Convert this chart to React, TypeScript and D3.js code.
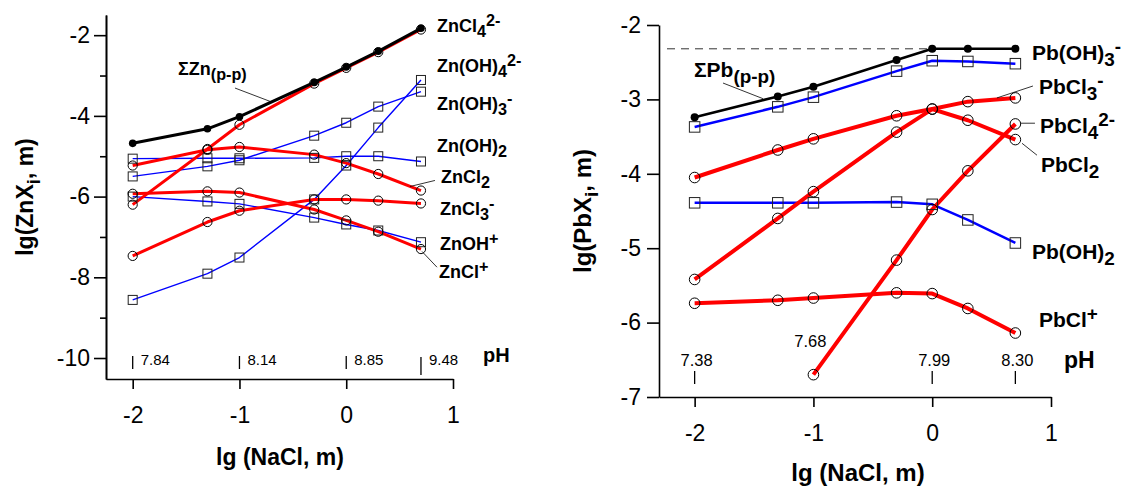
import React, { useEffect, useRef } from 'react';
import * as d3 from 'd3';

// lg(NaCl, m) values, same for both panels
const lgNaCl = [-2, -1.3, -1, -0.3, 0, 0.3, 0.7];

// Zn panel: lg of species molality
const znSum = [-4.68, -4.32, -4.02, -3.17, -2.79, -2.4, -1.83];
const znCl4 = [-6.2, -4.82, -4.22, -3.2, -2.81, -2.42, -1.86];
const znOH4 = [-8.56, -7.91, -7.51, -6.07, -5.23, -4.29, -3.11];
const znOH3 = [-5.5, -5.25, -5.1, -4.49, -4.17, -3.77, -3.4];
const znOH2 = [-5.06, -5.05, -5.05, -5.04, -5.0, -5.0, -5.13];
const znCl2 = [-5.23, -4.84, -4.77, -4.96, -5.17, -5.44, -5.85];
const znCl3 = [-7.47, -6.63, -6.35, -6.07, -6.07, -6.1, -6.17];
const znOH = [-6.0, -6.12, -6.18, -6.52, -6.69, -6.84, -7.13];
const znCl = [-5.93, -5.87, -5.9, -6.32, -6.59, -6.87, -7.3];

const znPh = ['7.84', '8.14', '8.85', '9.48'];
const znPhAt = [-2, -1, 0, 0.7];

// Pb panel
const pbSum = [-3.24, -2.96, -2.83, -2.47, -2.32, -2.32, -2.32];
const pbOH3 = [-3.37, -3.1, -2.97, -2.62, -2.48, -2.49, -2.52];
const pbCl3 = [-4.05, -3.68, -3.53, -3.22, -3.13, -3.03, -2.98];
const pbCl2 = [-5.42, -4.6, -4.24, -3.44, -3.13, -3.28, -3.54];
const pbCl4 = [null, null, -6.7, -5.16, -4.48, -3.96, -3.33];
const pbOH2 = [-4.39, -4.39, -4.39, -4.38, -4.41, -4.62, -4.93];
const pbCl = [-5.74, -5.7, -5.67, -5.6, -5.61, -5.81, -6.14];
const pbLimit = -2.32;

const pbPh = ['7.38', '7.68', '7.99', '8.30'];
const pbPhAt = [-2, -1, 0, 0.7];

// label texts: [text, 'sub' | 'sup' | undefined]
const znNames = [
  [['ZnCl'], ['4', 'sub'], ['2-', 'sup']],
  [['Zn(OH)'], ['4', 'sub'], ['2-', 'sup']],
  [['Zn(OH)'], ['3', 'sub'], ['-', 'sup']],
  [['Zn(OH)'], ['2', 'sub']],
  [['ZnCl'], ['2', 'sub']],
  [['ZnCl'], ['3', 'sub'], ['-', 'sup']],
  [['ZnOH'], ['+', 'sup']],
  [['ZnCl'], ['+', 'sup']],
];
const znSumName = [['\u03A3Zn'], ['(p-p)', 'sub']];

const pbNames = [
  [['Pb(OH)'], ['3', 'sub'], ['-', 'sup']],
  [['PbCl'], ['3', 'sub'], ['-', 'sup']],
  [['PbCl'], ['4', 'sub'], ['2-', 'sup']],
  [['PbCl'], ['2', 'sub']],
  [['Pb(OH)'], ['2', 'sub']],
  [['PbCl'], ['+', 'sup']],
];
const pbSumName = [['\u03A3Pb'], ['(p-p)', 'sub']];

const FONT = '"Liberation Sans", Arial, Helvetica, sans-serif';

function richText(sel, x, y, parts, size, anchor = 'start', weight = 'bold') {
  const t = sel.append('text')
    .attr('x', x).attr('y', y)
    .attr('font-size', size)
    .attr('font-weight', weight)
    .attr('text-anchor', anchor)
    .attr('fill', '#000');
  let shift = 0;
  parts.forEach(([s, kind]) => {
    const target = kind === 'sub' ? 0.3 * size : kind === 'sup' ? -0.35 * size : 0;
    t.append('tspan')
      .attr('dy', target - shift)
      .attr('font-size', kind ? size * 0.9 : size)
      .text(s);
    shift = target;
  });
  return t;
}

function drawPanel(svg, p) {
  const x = d3.scaleLinear().domain(p.xDomain).range(p.xRange);
  const y = d3.scaleLinear().domain(p.yDomain).range(p.yRange);
  const g = svg.append('g');

  // axes
  const styleAxis = (a) => {
    a.attr('font-family', FONT);
    a.selectAll('path, line').attr('stroke', '#000').attr('stroke-width', 1.6);
    a.selectAll('text').attr('font-size', p.tickFont).attr('fill', '#000');
  };
  const ya = g.append('g')
    .attr('transform', `translate(${p.xRange[0]},0)`)
    .call(d3.axisLeft(y).tickValues(p.yTicks).tickSize(12).tickPadding(p.yPad)
      .tickSizeOuter(0).tickFormat(d => String(d)));
  styleAxis(ya);
  if (p.yMinor) {
    const ym = g.append('g')
      .attr('transform', `translate(${p.xRange[0]},0)`)
      .call(d3.axisLeft(y).tickValues(p.yMinor).tickSize(6).tickSizeOuter(0).tickFormat(() => ''));
    styleAxis(ym);
  }
  const xa = g.append('g')
    .attr('transform', `translate(0,${p.yRange[0]})`)
    .call(d3.axisBottom(x).tickValues([-2, -1, 0, 1]).tickSize(10).tickPadding(p.xPad)
      .tickSizeOuter(0).tickFormat(d => String(d)));
  styleAxis(xa);

  // axis titles
  g.append('text')
    .attr('transform', `translate(${p.yTitle[0]},${p.yTitle[1]}) rotate(-90)`)
    .attr('text-anchor', 'middle')
    .attr('font-size', p.titleFont)
    .attr('font-weight', 'bold')
    .attr('dy', '0.35em')
    .call(t => {
      t.append('tspan').text(p.yTitleText[0]);
      t.append('tspan').attr('dy', p.titleFont * 0.28).attr('font-size', p.titleFont * 0.8).text('i');
      t.append('tspan').attr('dy', -p.titleFont * 0.28).text(', m)');
    });
  g.append('text')
    .attr('x', p.xTitle[0]).attr('y', p.xTitle[1])
    .attr('text-anchor', 'middle')
    .attr('font-size', p.titleFont)
    .attr('font-weight', 'bold')
    .text('lg (NaCl, m)');

  // dashed level line
  if (p.limit != null) {
    g.append('line')
      .attr('x1', p.xRange[0] + 8).attr('x2', x(0))
      .attr('y1', y(p.limit)).attr('y2', y(p.limit))
      .attr('stroke', '#333').attr('stroke-width', 1)
      .attr('stroke-dasharray', '8,6');
  }

  const line = d3.line()
    .defined(d => d != null)
    .x((d, i) => x(lgNaCl[i]))
    .y(d => y(d));

  const colors = { blue: '#0000ff', red: '#ff0000', black: '#000' };
  ['blue', 'red', 'black'].forEach(kind => {
    p.series.filter(s => s.kind === kind).forEach(s => {
      g.append('path')
        .datum(s.values)
        .attr('d', line)
        .attr('fill', 'none')
        .attr('stroke', colors[kind])
        .attr('stroke-width', p.widths[kind])
        .attr('stroke-linejoin', 'round');
    });
  });

  // markers
  p.series.forEach(s => {
    const pts = s.values.map((v, i) => ({ x: lgNaCl[i], y: v })).filter(d => d.y != null);
    if (s.kind === 'blue') {
      const h = p.sq / 2;
      g.selectAll(null).data(pts).enter().append('rect')
        .attr('x', d => x(d.x) - h).attr('y', d => y(d.y) - h)
        .attr('width', p.sq).attr('height', p.sq)
        .attr('fill', 'none').attr('stroke', '#222').attr('stroke-width', 1);
    } else if (s.kind === 'red') {
      g.selectAll(null).data(pts).enter().append('circle')
        .attr('cx', d => x(d.x)).attr('cy', d => y(d.y)).attr('r', p.cr)
        .attr('fill', 'none').attr('stroke', '#000').attr('stroke-width', 1);
    } else {
      g.selectAll(null).data(pts).enter().append('circle')
        .attr('cx', d => x(d.x)).attr('cy', d => y(d.y)).attr('r', p.dr)
        .attr('fill', '#000');
    }
  });

  // pH scale
  p.ph.forEach((lab, i) => {
    const px = x(p.phAt[i]);
    const tk = p.phTick(i);
    if (tk) {
      g.append('line').attr('x1', px).attr('x2', px).attr('y1', tk[0]).attr('y2', tk[1])
        .attr('stroke', '#000').attr('stroke-width', 1.3);
    }
    const pos = p.phText(i, px);
    g.append('text').attr('x', pos[0]).attr('y', pos[1])
      .attr('text-anchor', p.phAnchor).attr('font-size', p.phFont).text(lab);
  });
  g.append('text').attr('x', p.phTitle[0]).attr('y', p.phTitle[1])
    .attr('font-size', p.phTitleFont).attr('font-weight', 'bold').text('pH');

  // species labels
  p.names.forEach((parts, i) => {
    richText(g, p.namePos[i][0], p.namePos[i][1], parts, p.nameFont);
  });
  richText(g, p.sumPos[0], p.sumPos[1], p.sumName, p.nameFont);

  // leader lines (data coords)
  p.leaders.forEach(([a, b]) => {
    g.append('line')
      .attr('x1', x(a[0])).attr('y1', y(a[1]))
      .attr('x2', x(b[0])).attr('y2', y(b[1]))
      .attr('stroke', '#000').attr('stroke-width', 0.8);
  });
}

const leftPanel = {
  xDomain: [-2.25, 1], xRange: [106, 453],
  yDomain: [-10.52, -1.5], yRange: [379, 15],
  yTicks: [-10, -8, -6, -4, -2], yMinor: [-9, -7, -5, -3],
  yPad: 4, xPad: 18, tickFont: 23,
  titleFont: 23, yTitle: [25, 197], yTitleText: ['lg(ZnX'], xTitle: [280, 465],
  widths: { blue: 1.4, red: 3, black: 3 },
  sq: 9, cr: 4.6, dr: 3.8,
  series: [
    { values: znOH4, kind: 'blue' },
    { values: znOH3, kind: 'blue' },
    { values: znOH2, kind: 'blue' },
    { values: znOH, kind: 'blue' },
    { values: znCl4, kind: 'red' },
    { values: znCl2, kind: 'red' },
    { values: znCl3, kind: 'red' },
    { values: znCl, kind: 'red' },
    { values: znSum, kind: 'black' },
  ],
  ph: znPh, phAt: znPhAt, phFont: 15, phAnchor: 'start',
  phTick: (i) => (i === 3 ? [357, 375] : [356, 369]),
  phText: (i, px) => [px + 8, 365],
  phTitle: [483, 362], phTitleFont: 20,
  names: znNames,
  namePos: [[437, 32], [437, 72], [437, 110], [437, 152], [441, 183], [440, 215], [440, 250], [439, 278]],
  nameFont: 18,
  sumName: znSumName, sumPos: [178, 75],
  leaders: [
    [[-1.042, -3.31], [-0.714, -3.64]],
    [[0.597, -5.75], [0.831, -5.6]],
    [[0.71, -7.36], [0.85, -7.75]],
  ],
};

const rightPanel = {
  xDomain: [-2.3, 1], xRange: [659, 1051],
  yDomain: [-7, -2], yRange: [397, 25],
  yTicks: [-7, -6, -5, -4, -3, -2], yMinor: null,
  yPad: 6, xPad: 18, tickFont: 23,
  titleFont: 24, yTitle: [583, 211], yTitleText: ['lg(PbX'], xTitle: [858, 481],
  widths: { blue: 2.5, red: 4, black: 2.5 },
  sq: 10.5, cr: 5.3, dr: 4,
  limit: pbLimit,
  series: [
    { values: pbOH3, kind: 'blue' },
    { values: pbOH2, kind: 'blue' },
    { values: pbCl3, kind: 'red' },
    { values: pbCl2, kind: 'red' },
    { values: pbCl4, kind: 'red' },
    { values: pbCl, kind: 'red' },
    { values: pbSum, kind: 'black' },
  ],
  ph: pbPh, phAt: pbPhAt, phFont: 16.5, phAnchor: 'middle',
  phTick: (i) => (i === 1 ? null : [371, 384]),
  phText: (i, px) => (i === 1 ? [px - 3, 347] : [px + 2, 366]),
  phTitle: [1064, 368], phTitleFont: 23,
  names: pbNames,
  namePos: [[1032, 60], [1039, 94], [1040, 133], [1041, 172], [1032, 259], [1039, 327]],
  nameFont: 21,
  sumName: pbSumName, sumPos: [694, 77],
  leaders: [
    [[-1.761, -2.78], [-1.425, -2.99]],
    [[0.545, -2.98], [0.848, -2.82]],
    [[0.747, -3.32], [0.865, -3.32]],
    [[0.756, -3.59], [0.882, -3.75]],
  ],
};

const App = () => {
  const svgRef = useRef(null);

  useEffect(() => {
    if (!svgRef.current) return;
    const svg = d3.select(svgRef.current);
    svg.selectAll('*').remove();
    drawPanel(svg, leftPanel);
    drawPanel(svg, rightPanel);
  }, []);

  return (
    <svg
      ref={svgRef}
      width={1128}
      height={488}
      style={{ position: 'absolute', left: 0, top: 0, background: '#fff', fontFamily: FONT }}
    />
  );
};

export default App;
